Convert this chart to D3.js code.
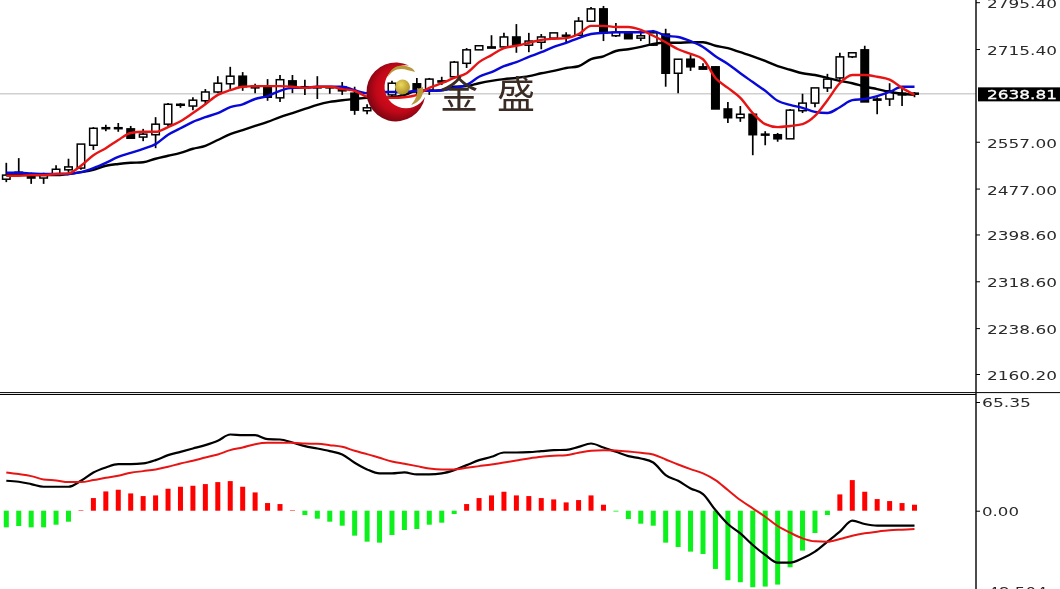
<!DOCTYPE html>
<html><head><meta charset="utf-8">
<script src="https://cdn.jsdelivr.net/npm/d3@7/dist/d3.min.js"></script>
<style>html,body{margin:0;padding:0;background:#fff;overflow:hidden}svg{display:block;filter:blur(0.4px)}</style>
</head><body><svg id="c" width="1060" height="589"></svg>
<script>
const opens=[2493,2505,2502,2495,2502,2509,2512,2551,2580,2580,2579,2565,2569,2587,2620,2618,2627,2642,2656,2669,2649,2652,2632,2661,2651,2651,2651,2651,2640,2610,2635,2637,2649,2656,2645,2659,2668,2691,2714,2719,2719,2736,2722,2727,2734,2738,2739,2763,2784,2738,2744,2734,2722,2741,2674,2698,2685,2685,2613,2598,2604,2569,2569,2562,2610,2623,2649,2666,2702,2714,2628,2630,2637,2640];
const highs=[2521,2529,2504,2504,2517,2528,2553,2582,2586,2589,2584,2579,2599,2623,2623,2633,2647,2669,2685,2676,2656,2664,2671,2671,2663,2669,2652,2659,2651,2621,2645,2661,2656,2666,2666,2668,2695,2717,2721,2739,2743,2758,2743,2741,2743,2744,2770,2787,2789,2760,2744,2748,2748,2750,2698,2705,2691,2686,2625,2618,2604,2575,2572,2613,2639,2649,2673,2709,2710,2721,2633,2657,2649,2642];
const lows=[2488,2499,2485,2485,2500,2504,2509,2543,2575,2574,2562,2558,2546,2584,2615,2611,2621,2640,2647,2644,2640,2627,2625,2640,2637,2630,2639,2637,2603,2604,2628,2633,2632,2637,2637,2654,2666,2683,2714,2717,2717,2709,2710,2715,2733,2726,2738,2762,2729,2736,2733,2729,2721,2651,2640,2678,2681,2613,2589,2591,2534,2551,2557,2562,2606,2616,2642,2663,2700,2625,2604,2618,2618,2633];
const closes=[2500,2500,2495,2500,2510,2514,2553,2580,2581,2581,2563,2570,2587,2621,2621,2628,2642,2657,2669,2651,2652,2633,2663,2651,2649,2649,2649,2644,2611,2615,2640,2657,2639,2642,2664,2661,2693,2714,2721,2717,2736,2722,2729,2736,2743,2739,2763,2784,2743,2744,2733,2738,2743,2674,2698,2685,2681,2613,2598,2604,2569,2570,2562,2611,2623,2649,2664,2702,2709,2625,2630,2644,2640,2638.81];
const maFast=[2499,2499,2500,2500,2502,2503,2516,2534,2546,2560,2572,2574,2574,2582,2592,2606,2621,2637,2645,2651,2652,2652,2652,2651,2649,2651,2651,2647,2644,2634,2632,2632,2633,2637,2649,2657,2666,2674,2693,2705,2717,2721,2726,2731,2733,2734,2741,2755,2755,2753,2753,2748,2738,2727,2715,2707,2698,2666,2649,2632,2606,2587,2582,2584,2587,2601,2628,2657,2671,2671,2668,2663,2649,2637];
const maMid=[2504,2504,2503,2502,2502,2502,2505,2512,2521,2531,2538,2545,2553,2569,2580,2591,2599,2606,2616,2621,2630,2635,2644,2649,2649,2651,2651,2651,2645,2640,2642,2642,2642,2644,2644,2645,2649,2654,2668,2676,2686,2693,2702,2710,2719,2726,2734,2741,2743,2744,2744,2744,2746,2738,2736,2729,2719,2703,2690,2674,2659,2644,2627,2620,2615,2608,2606,2616,2628,2630,2635,2642,2651,2651];
const maSlow=[2500,2500,2500,2500,2500,2502,2505,2509,2516,2519,2521,2522,2528,2533,2538,2545,2550,2560,2570,2577,2584,2591,2599,2606,2613,2620,2625,2628,2630,2632,2632,2633,2637,2644,2644,2645,2651,2652,2657,2661,2664,2666,2669,2674,2678,2683,2686,2698,2703,2712,2715,2719,2724,2726,2726,2727,2727,2721,2717,2710,2703,2695,2686,2680,2674,2671,2666,2661,2657,2651,2647,2642,2639,2637];
const macdHist=[-10,-9.2,-10,-10,-8.4,-6.6,0.3,7.6,11.6,12.6,10.4,8.8,9.2,13.2,14.4,15,16,17.2,17.8,14.4,11,4.6,4,0.3,-2.6,-4.8,-6.6,-9,-15,-18.6,-19.2,-14.6,-11.6,-11,-8.4,-7.2,-2,4,7.6,9.2,11.4,9.2,8.8,7.6,6.8,5,6.4,9.2,3.6,-0.5,-5,-7.8,-9,-19.2,-21.8,-24.6,-26,-35,-41.8,-43,-46,-45.6,-44.4,-34,-24,-13.4,-2.6,9.8,18.4,11.4,7,5.8,4.6,3.6];
const macdLine=[18,17.4,16,14.4,14.4,14.4,18,23,26,28,28,28.4,30.4,33.4,35.4,37.4,39.4,42,45.8,45.4,45.4,43,42.8,41,38.8,37.4,35.8,33.8,28.8,24.8,22.4,22.4,23,21.8,21.8,22.4,24.4,27.4,30.4,32.4,35,35,35.2,35.8,36.4,36.6,38.4,40.4,38,35.4,32.8,31.4,29,21.4,18,13.4,10,0.4,-8,-13.6,-20.6,-26.6,-31.2,-31.2,-28.6,-24.6,-18.6,-12.6,-6,-8,-9,-9,-9,-9];
const signalLine=[23,22,20.8,18.8,18.2,17.2,17.2,18.4,19.8,21,22.8,23.8,24.8,26.4,28.4,30,32,33.8,36.4,38,40,40.8,40.8,40.8,40.4,40.2,39.4,38.4,36,34,31.8,29.6,28.2,26.8,25.4,24.8,24.8,25.8,26.8,27.8,29,30.2,31.4,32.4,33,33.4,34.8,36,36.4,36.2,35.6,34.8,33.8,30.8,27.8,25,22.4,18.4,12.4,6.4,1.4,-3.6,-9.2,-13.2,-16.6,-18.4,-18.6,-17,-15,-13.6,-12.6,-11.8,-11.4,-11];
const priceTicks=[2795.4,2715.4,2557,2477,2398.6,2318.6,2238.6,2160.2];
const macdTicks=[65.35,0,-48.504];
const lastPrice=2638.81;

const svg=d3.select("#c"), W=1060, H=589, axisX=976;
const idx=d3.range(opens.length);
const x=d3.scaleLinear().domain([0,73]).range([6.3,914.5]);
const y=d3.scaleLinear().domain([2160.2,2795.4]).range([374,2.2]);
const ym=d3.scaleLinear().domain([-48.504,65.35]).range([591.4,402]);
const bw=7.5;

// current price line
svg.append("line").attr("x1",0).attr("x2",axisX).attr("y1",y(lastPrice)).attr("y2",y(lastPrice)).attr("stroke","#d0d0d0").attr("stroke-width",1.5);

// candles
const g=svg.append("g");
g.selectAll("line.w").data(idx).join("line").attr("class","w")
 .attr("x1",i=>x(i)).attr("x2",i=>x(i)).attr("y1",i=>y(highs[i])).attr("y2",i=>y(lows[i]))
 .attr("stroke","#000").attr("stroke-width",1.7);
g.selectAll("rect.b").data(idx).join("rect").attr("class","b")
 .attr("x",i=>x(i)-bw/2).attr("width",bw)
 .attr("y",i=>y(Math.max(opens[i],closes[i])))
 .attr("height",i=>Math.max(1,Math.abs(y(opens[i])-y(closes[i]))))
 .attr("fill",i=>closes[i]>=opens[i]?"#fff":"#000")
 .attr("stroke","#000").attr("stroke-width",1.5);

const lineP=d3.line().x((d,i)=>x(i)).y(d=>y(d)).curve(d3.curveMonotoneX);
const lineM=d3.line().x((d,i)=>x(i)).y(d=>ym(d)).curve(d3.curveMonotoneX);
[[maSlow,"#000"],[maMid,"#0808d8"],[maFast,"#e81414"]].forEach(([s,c])=>{
 svg.append("path").attr("d",lineP(s)).attr("fill","none").attr("stroke",c).attr("stroke-width",2.4).attr("stroke-linejoin","round");
});

// MACD
svg.selectAll("rect.h").data(idx).join("rect").attr("class","h")
 .attr("x",i=>x(i)-2.5).attr("width",5)
 .attr("y",i=>Math.min(ym(0),ym(macdHist[i])))
 .attr("height",i=>Math.abs(ym(macdHist[i])-ym(0)))
 .attr("fill",i=>macdHist[i]>=0?"#ff0000":"#0cf01c");
svg.append("path").attr("d",lineM(macdLine)).attr("fill","none").attr("stroke","#000").attr("stroke-width",2.2);
svg.append("path").attr("d",lineM(signalLine)).attr("fill","none").attr("stroke","#e81414").attr("stroke-width",2);

// frame
svg.append("line").attr("x1",0).attr("x2",W).attr("y1",392.6).attr("y2",392.6).attr("stroke","#000").attr("stroke-width",1);
svg.append("line").attr("x1",0).attr("x2",axisX).attr("y1",394.5).attr("y2",394.5).attr("stroke","#000").attr("stroke-width",1);
svg.append("line").attr("x1",axisX).attr("x2",axisX).attr("y1",0).attr("y2",H).attr("stroke","#111").attr("stroke-width",1.5);

// axes
const stretch=(sel,off,px)=>sel.selectAll("text")
  .attr("x",off).attr("dy",null).attr("dominant-baseline","central")
  .attr("font-family","DejaVu Sans").attr("font-size",13).attr("fill","#2a2a2a")
  .attr("lengthAdjust","spacingAndGlyphs").attr("textLength",function(){return px(this.textContent)});
const ax=svg.append("g").attr("transform",`translate(${axisX},0)`)
 .call(d3.axisRight(y).tickValues(priceTicks).tickFormat(d3.format(".2f")).tickSize(4));
ax.select(".domain").remove();
stretch(ax,11,()=>70);
ax.selectAll("text").attr("y",1);
const am=svg.append("g").attr("transform",`translate(${axisX},0)`)
 .call(d3.axisRight(ym).tickValues(macdTicks).tickFormat(d=>d===-48.504?"-48.504":d3.format(".2f")(d)).tickSize(4));
am.select(".domain").remove();
stretch(am,6,s=>s.length===5?49:s.length===4?37:65);
am.selectAll("text").attr("y",0);

// price flag
const fy=y(lastPrice);
svg.append("rect").attr("x",978).attr("y",fy-6.5).attr("width",82).attr("height",14).attr("fill","#000");
svg.append("text").attr("x",987).attr("y",fy+1).attr("dominant-baseline","central").attr("font-family","DejaVu Sans").attr("font-size",13).attr("fill","#fff").attr("stroke","#fff").attr("stroke-width",0.3)
 .attr("lengthAdjust","spacingAndGlyphs").attr("textLength",70).text(d3.format(".2f")(lastPrice));

// logo
const defs=svg.append("defs");
const rg=defs.append("radialGradient").attr("id","red").attr("cx","55%").attr("cy","45%").attr("r","60%");
rg.append("stop").attr("offset","0%").attr("stop-color","#f01020");
rg.append("stop").attr("offset","65%").attr("stop-color","#c00818");
rg.append("stop").attr("offset","100%").attr("stop-color","#6e0410");
const gg=defs.append("radialGradient").attr("id","gold").attr("cx","40%").attr("cy","35%").attr("r","70%");
gg.append("stop").attr("offset","0%").attr("stop-color","#ecd860");
gg.append("stop").attr("offset","100%").attr("stop-color","#a88c20");
const lg=svg.append("g");
lg.append("path").attr("fill","url(#red)").attr("d","M409,65.5 A29.5,29.5 0 1 0 425,97 A21.5,21.5 0 1 1 409,65.5 Z");
lg.append("path").attr("fill","#b89a3a").attr("d","M388,77 C390,68 398,64 406,66 C411,67 414,69 415,72 C410,71 406,69 401,69 C395,69 391,72 388,77 Z");
lg.append("path").attr("fill","#b89a3a").attr("d","M423,87 C424,96 420,102 411,105 C416,99 418,94 417,88 C419,89 421,88 423,87 Z");
lg.append("circle").attr("cx",402.5).attr("cy",87).attr("r",7.5).attr("fill","url(#gold)");
svg.append("text").attr("x",440).attr("y",108).attr("font-family","Noto Sans CJK SC").attr("font-size",38).attr("fill","#3a2c24").attr("letter-spacing",19).text("金盛");
</script></body></html>
